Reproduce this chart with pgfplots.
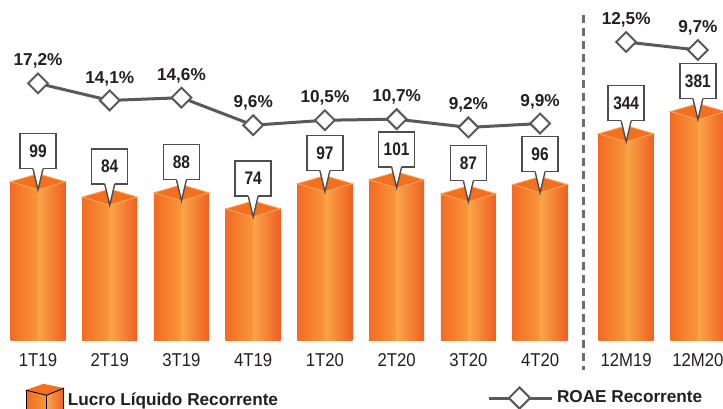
\documentclass[border=0pt]{standalone}
\usepackage{fontspec}
\setmainfont{Liberation Sans}
\newfontfamily\narrowfont{Liberation Sans}[FakeStretch=0.85]
\newfontfamily\tickfont{Liberation Sans}[FakeStretch=0.9]
\usepackage{pgfplots}
\pgfplotsset{compat=1.18}

\definecolor{barL}{HTML}{F26C22}
\definecolor{barM}{HTML}{F8973B}
\definecolor{barM2}{HTML}{FAA64A}
\definecolor{barR}{HTML}{EF5F21}
\definecolor{barTop}{HTML}{F3701F}
\definecolor{barEdge}{HTML}{F9A865}
\definecolor{roae}{HTML}{58595B}
\definecolor{txt}{HTML}{231F20}
\definecolor{sepline}{HTML}{6D6E71}

% top face of the 3D bars
\pgfdeclareplotmark{topface}{%
  \pgfpathmoveto{\pgfqpoint{-13.75pt}{0pt}}%
  \pgfpathlineto{\pgfqpoint{0pt}{4pt}}%
  \pgfpathlineto{\pgfqpoint{13.75pt}{0pt}}%
  \pgfpathlineto{\pgfqpoint{0pt}{-4pt}}%
  \pgfpathclose
  \pgfusepathqfillstroke}

% pointer of the value boxes, tip on the front corner of the bar top
\pgfdeclareplotmark{pointer}{%
  \pgfpathmoveto{\pgfqpoint{-2.5pt}{7pt}}%
  \pgfpathlineto{\pgfqpoint{2.5pt}{7pt}}%
  \pgfpathlineto{\pgfqpoint{2.5pt}{6.5pt}}%
  \pgfpathlineto{\pgfqpoint{0pt}{-4pt}}%
  \pgfpathlineto{\pgfqpoint{-2.5pt}{6.5pt}}%
  \pgfpathclose
  \pgfusepathqfill
  \pgfpathmoveto{\pgfqpoint{-2.5pt}{6.5pt}}%
  \pgfpathlineto{\pgfqpoint{0pt}{-4pt}}%
  \pgfpathlineto{\pgfqpoint{2.5pt}{6.5pt}}%
  \pgfusepathqstroke}

\pgfplotsset{
  /pgf/number format/assume math mode=true,
  base/.style={scale only axis, width=361.5pt, height=170pt,
    xmin=-0.53, xmax=9.55, at={(0,0)}, anchor=south west},
  % one plot per bar (only the row at x=#1 is kept), so every bar has its own shading
  barsL/.style={ybar, bar width=13.75pt, bar shift=-6.875pt, draw=none,
    left color=barL, right color=barM, forget plot,
    x filter/.expression={abs(x-#1)<0.1 ? x : nan}},
  barsR/.style={ybar, bar width=13.75pt, bar shift=6.875pt, draw=none,
    left color=barM2, right color=barR, forget plot,
    x filter/.expression={abs(x-#1)<0.1 ? x : nan}},
  tops/.style={mark=topface, draw=none, forget plot,
    mark options={fill=barTop, draw=barEdge, line width=0.4pt}},
  boxes/.style={draw=none, mark=none, point meta=rawy, nodes near coords,
    forget plot,
    every node near coord/.append style={rectangle, draw=txt!80,
      line width=0.7pt, fill=white, text=txt, minimum width=18pt,
      minimum height=17.5pt, inner sep=0pt, outer sep=0pt,
      anchor=south, yshift=6.5pt,
      font=\fontsize{9.1}{11}\narrowfont\bfseries}},
  ptr/.style={draw=none, mark=pointer, forget plot,
    mark options={fill=white, draw=txt!80, line width=0.7pt}},
  pct/.style={color=roae, line width=1.5pt, mark=square*, mark size=3.5pt,
    mark options={rotate=45, fill=white, draw=roae, line width=1pt},
    nodes near coords={\pgfmathprintnumber[fixed, fixed zerofill,
      precision=1, use comma]{\pgfplotspointmeta}\%},
    every node near coord/.append style={anchor=base, yshift=8.7pt,
      inner sep=0pt, text=txt, font=\fontsize{8.6}{10}\bfseries}},
  leg/.style={legend style={draw=none, fill=none, inner sep=0pt,
    outer sep=0pt, anchor=west, at={(#1,-0.1706)}, text=txt,
    font=\fontsize{8.6}{10}\bfseries}},
}

\pgfplotstableread{
x   v
0   99
1   84
2   88
3   74
4   97
5   101
6   87
7   96
}\quarters
\pgfplotstableread{
x    v
8.2  344
9.2  381
}\annual

\begin{document}
\begin{tikzpicture}

% quarterly bars (log scale: bars rise from the bottom of the axis)
\begin{axis}[base, ymode=log, ymin=18.1, ymax=697,
    axis line style={draw=none}, tick style={draw=none},
    major tick length=0pt, ytick=\empty,
    xtick={0,1,2,3,4,5,6,7,8.2,9.2},
    xticklabels={1T19,2T19,3T19,4T19,1T20,2T20,3T20,4T20,12M19,12M20},
    xticklabel style={anchor=center, yshift=-10pt,
      font=\fontsize{9.3}{11}\tickfont, text=txt},
    leg=0.036]
\pgfplotsinvokeforeach{0,...,7}{
  \addplot[barsL=#1] table[x=x, y=v] {\quarters};
  \addplot[barsR=#1] table[x=x, y=v] {\quarters};
}
\addplot[tops] table[x=x, y=v] {\quarters};
\addplot[boxes] table[x=x, y=v] {\quarters};
\addplot[ptr] table[x=x, y=v] {\quarters};
\addlegendimage{legend image code/.code={
    \fill[barTop] (0pt,5pt) -- (8.5pt,8pt) -- (18.5pt,6pt) -- (10pt,2.5pt) -- cycle;
    \fill[left color=barL, right color=barM] (0pt,5pt) -- (10pt,2.5pt) -- (10pt,-5pt) -- (0pt,-5pt) -- cycle;
    \fill[left color=barM2, right color=barR] (10pt,2.5pt) -- (18.5pt,6pt) -- (18.5pt,-5pt) -- (10pt,-5pt) -- cycle;
  }}
\addlegendentry{Lucro Líquido Recorrente}
\end{axis}

% annual bars
\begin{axis}[base, hide axis, ymin=0, ymax=567]
\pgfplotsinvokeforeach{8.2,9.2}{
  \addplot[barsL=#1] table[x=x, y=v] {\annual};
  \addplot[barsR=#1] table[x=x, y=v] {\annual};
}
\addplot[tops] table[x=x, y=v] {\annual};
\addplot[boxes] table[x=x, y=v] {\annual};
\addplot[ptr] table[x=x, y=v] {\annual};
\end{axis}

% quarterly ROAE
\begin{axis}[base, hide axis, clip=false, ymin=-29.45, ymax=32.36, leg=0.6736]
\draw[sepline, line width=1.5pt, dash pattern=on 4pt off 2.5pt]
  ({axis cs:7.6,0} |- {rel axis cs:0,0.956}) -- ({axis cs:7.6,0} |- {rel axis cs:0,-0.088});
\addplot[pct, legend image code/.code={
    \draw[roae, line width=1.5pt] (0pt,0pt) -- (31.5pt,0pt);
    \draw[roae, fill=white, line width=1pt] (15.5pt,5.3pt) -- (20.8pt,0pt) -- (15.5pt,-5.3pt) -- (10.2pt,0pt) -- cycle;
  }] coordinates {
  (0,17.2) (1,14.1) (2,14.6) (3,9.6) (4,10.5) (5,10.7) (6,9.2) (7,9.9)
};
\addlegendentry{ROAE Recorrente}
\end{axis}

% annual ROAE
\begin{axis}[base, hide axis, clip=false, ymin=-91.8, ymax=27.2]
\addplot[pct] coordinates {(8.2,12.5) (9.2,9.7)};
\end{axis}

\pgfresetboundingbox
\path[use as bounding box] (0pt,-34pt) rectangle (361.5pt,170pt);
\end{tikzpicture}
\end{document}
